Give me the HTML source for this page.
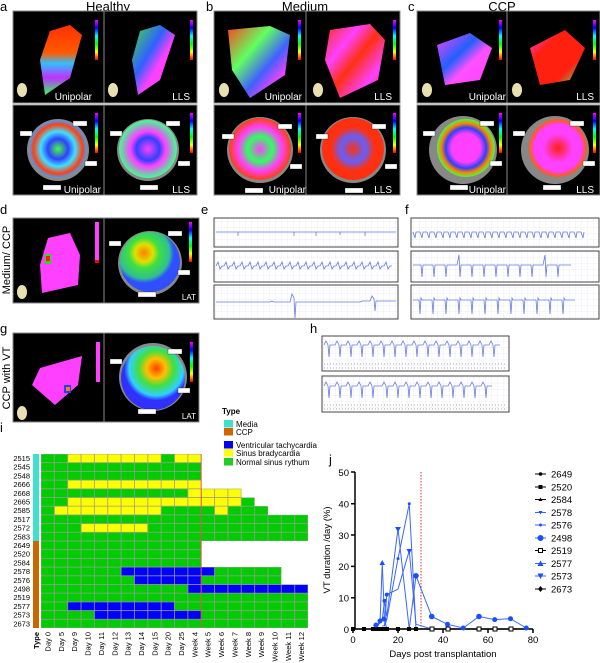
<!DOCTYPE html>
<html><head><meta charset="utf-8"><style>
html,body{margin:0;padding:0;background:#fff}
svg{display:block;font-family:"Liberation Sans",Arial,sans-serif}
</style></head><body>
<svg width="600" height="663" viewBox="0 0 600 663" xmlns="http://www.w3.org/2000/svg">
<defs>
<linearGradient id="cbar" x1="0" y1="0" x2="0" y2="1">
<stop offset="0" stop-color="#ff00ff"/><stop offset=".2" stop-color="#0000ff"/><stop offset=".4" stop-color="#00ffff"/><stop offset=".6" stop-color="#00ff00"/><stop offset=".8" stop-color="#ffff00"/><stop offset="1" stop-color="#ff0000"/></linearGradient>
<linearGradient id="ga1" x1="0" y1="0" x2="0" y2="1"><stop offset="0" stop-color="#ff3000"/><stop offset=".4" stop-color="#ff5a00"/><stop offset=".55" stop-color="#30c0ff"/><stop offset=".75" stop-color="#c030ff"/><stop offset="1" stop-color="#30ff60"/></linearGradient>
<linearGradient id="ga2" x1="0" y1="0" x2="1" y2="1"><stop offset="0" stop-color="#40e040"/><stop offset=".4" stop-color="#3060ff"/><stop offset=".6" stop-color="#ff40ff"/><stop offset="1" stop-color="#ff40ff"/></linearGradient>
<linearGradient id="gb1" x1="0" y1="0" x2="1" y2="1"><stop offset="0" stop-color="#ff4020"/><stop offset=".35" stop-color="#60ff60"/><stop offset=".6" stop-color="#4060ff"/><stop offset=".8" stop-color="#ff40ff"/><stop offset="1" stop-color="#30a0ff"/></linearGradient>
<linearGradient id="gb2" x1="0" y1="0" x2="1" y2="1"><stop offset="0" stop-color="#ff3010"/><stop offset=".3" stop-color="#ff40ff"/><stop offset=".5" stop-color="#ff3010"/><stop offset=".75" stop-color="#ff40ff"/><stop offset="1" stop-color="#ff3010"/></linearGradient>
<linearGradient id="gc1" x1="0" y1="0" x2="1" y2="1"><stop offset="0" stop-color="#ff40ff"/><stop offset=".4" stop-color="#2060ff"/><stop offset=".6" stop-color="#ff50ff"/><stop offset="1" stop-color="#ff40ff"/></linearGradient>
<linearGradient id="gc2" x1="0" y1="0" x2="1" y2="1"><stop offset="0" stop-color="#ff40ff"/><stop offset=".3" stop-color="#ff2010"/><stop offset=".7" stop-color="#ff2010"/><stop offset="1" stop-color="#40ff80"/></linearGradient>
<radialGradient id="ra1"><stop offset="0" stop-color="#40ff40"/><stop offset=".35" stop-color="#3040ff"/><stop offset=".6" stop-color="#40e0ff"/><stop offset=".85" stop-color="#ff4010"/><stop offset="1" stop-color="#40a0ff"/></radialGradient>
<radialGradient id="ra2"><stop offset="0" stop-color="#ff40ff"/><stop offset=".4" stop-color="#3040ff"/><stop offset=".6" stop-color="#ff40ff"/><stop offset="1" stop-color="#40ff90"/></radialGradient>
<radialGradient id="rb1"><stop offset="0" stop-color="#ff40ff"/><stop offset=".4" stop-color="#30ff60"/><stop offset=".7" stop-color="#ff40ff"/><stop offset="1" stop-color="#ff4010"/></radialGradient>
<radialGradient id="rb2"><stop offset="0" stop-color="#ff3010"/><stop offset=".4" stop-color="#6060ff"/><stop offset=".7" stop-color="#ff3010"/><stop offset="1" stop-color="#ff3010"/></radialGradient>
<radialGradient id="rc1"><stop offset="0" stop-color="#ff40ff"/><stop offset=".5" stop-color="#ff40ff"/><stop offset=".7" stop-color="#3040ff"/><stop offset=".85" stop-color="#ff8000"/><stop offset="1" stop-color="#40ff40"/></radialGradient>
<radialGradient id="rc2"><stop offset="0" stop-color="#ff2010"/><stop offset=".5" stop-color="#ff40ff"/><stop offset=".8" stop-color="#ff40ff"/><stop offset="1" stop-color="#ff6000"/></radialGradient>
<radialGradient id="rd" cx=".4" cy=".35"><stop offset="0" stop-color="#ff8000"/><stop offset=".3" stop-color="#e0e000"/><stop offset=".5" stop-color="#40e040"/><stop offset=".85" stop-color="#30c090"/><stop offset="1" stop-color="#3050ff"/></radialGradient>
<radialGradient id="rg" cx=".55" cy=".35"><stop offset="0" stop-color="#ff4000"/><stop offset=".3" stop-color="#ffc000"/><stop offset=".55" stop-color="#40e040"/><stop offset=".85" stop-color="#30d0ff"/><stop offset="1" stop-color="#3030ff"/></radialGradient>
<pattern id="ecg" width="6" height="6" patternUnits="userSpaceOnUse"><path d="M6 0V6M0 6H6" stroke="#dde" stroke-width=".5" fill="none"/></pattern>
<pattern id="grid" x="41" y="454" width="13.35" height="8.7" patternUnits="userSpaceOnUse"><rect width="13.35" height="8.7" fill="none" stroke="#999" stroke-width=".8"/></pattern>
</defs>

<g font-size="13" fill="#000">
<text x="0" y="11">a</text><text x="108" y="11" text-anchor="middle">Healthy</text>
<text x="206" y="11">b</text><text x="305" y="11" text-anchor="middle">Medium</text>
<text x="408" y="11">c</text><text x="502" y="11" text-anchor="middle">CCP</text>
<text x="0" y="214">d</text><text x="201" y="214">e</text><text x="405" y="214">f</text>
<text x="0" y="333">g</text><text x="310" y="333">h</text>
<text x="0" y="432">i</text><text x="329" y="464">j</text>
</g>

<g fill="#000" stroke="#888" stroke-width="1">
<rect x="13" y="11" width="91" height="92"/><rect x="104" y="11" width="93" height="92"/>
<rect x="13" y="105" width="91" height="90"/><rect x="104" y="105" width="93" height="90"/>
<rect x="214" y="11" width="92" height="92"/><rect x="306" y="11" width="94" height="92"/>
<rect x="214" y="105" width="92" height="90"/><rect x="306" y="105" width="94" height="90"/>
<rect x="417" y="11" width="90" height="92"/><rect x="507" y="11" width="93" height="92"/>
<rect x="417" y="105" width="90" height="90"/><rect x="507" y="105" width="93" height="90"/>
<rect x="13" y="218" width="91" height="85"/><rect x="104" y="218" width="95" height="85"/>
<rect x="13" y="333" width="91" height="89"/><rect x="104" y="333" width="95" height="89"/>
</g>
<text transform="translate(10,260) rotate(-90)" font-size="11" text-anchor="middle">Medium/ CCP</text>
<text transform="translate(10,378) rotate(-90)" font-size="11" text-anchor="middle">CCP with VT</text>

<polygon points="50,31 70,25 82,35 70,78 45,95 40,60" fill="url(#ga1)"/>
<polygon points="140,31 160,25 175,35 160,80 138,95 132,60" fill="url(#ga2)"/>
<polygon points="228,30 270,26 290,35 285,75 250,98 232,70" fill="url(#gb1)"/>
<polygon points="330,30 370,24 385,40 378,80 340,98 325,60" fill="url(#gb2)"/>
<polygon points="437,45 470,33 492,48 480,80 445,85" fill="url(#gc1)"/>
<polygon points="530,48 565,30 585,48 570,80 540,85" fill="url(#gc2)"/>
<polygon points="48,238 70,233 80,255 78,285 42,293 40,265" fill="#ff40ff"/>
<rect x="45" y="254" width="6" height="10" fill="#20e020"/><rect x="46" y="256" width="4" height="5" fill="#ff2000"/>
<polygon points="40,368 82,356 78,385 55,405 32,385" fill="#ff40ff"/>
<rect x="64" y="385" width="7" height="8" fill="#2040ff"/><rect x="66" y="387" width="4" height="4" fill="#ff8000"/>
<circle cx="58" cy="150" r="31" fill="#888"/><circle cx="58" cy="149" r="29" fill="url(#ra1)"/>
<circle cx="148" cy="150" r="31" fill="#888"/><circle cx="148" cy="149" r="29" fill="url(#ra2)"/>
<circle cx="260" cy="150" r="33" fill="#888"/><circle cx="260" cy="149" r="31" fill="url(#rb1)"/>
<circle cx="353" cy="150" r="33" fill="#888"/><circle cx="353" cy="149" r="31" fill="url(#rb2)"/>
<circle cx="463" cy="150" r="34" fill="#888"/><circle cx="466" cy="148" r="29" fill="url(#rc1)"/>
<circle cx="555" cy="150" r="34" fill="#888"/><circle cx="558" cy="148" r="29" fill="url(#rc2)"/>
<circle cx="150" cy="263" r="32" fill="#888"/><circle cx="150" cy="262" r="30" fill="url(#rd)"/>
<circle cx="153" cy="377" r="34" fill="#888"/><circle cx="153" cy="378" r="32" fill="url(#rg)"/>
<g fill="url(#cbar)">
<rect x="95" y="20" width="3" height="40"/><rect x="190" y="20" width="3" height="40"/>
<rect x="95" y="113" width="3" height="40"/><rect x="190" y="113" width="3" height="40"/>
<rect x="298" y="20" width="3" height="40"/><rect x="393" y="20" width="3" height="40"/>
<rect x="298" y="113" width="3" height="40"/><rect x="393" y="113" width="3" height="40"/>
<rect x="499" y="20" width="3" height="40"/><rect x="593" y="20" width="3" height="40"/>
<rect x="499" y="113" width="3" height="40"/><rect x="593" y="113" width="3" height="40"/>
<rect x="189" y="222" width="3" height="40"/><rect x="190" y="342" width="3" height="40"/>
</g>
<rect x="95" y="222" width="4" height="38" fill="#ff40ff"/><rect x="95" y="260" width="4" height="3" fill="#f00"/>
<rect x="96" y="342" width="4" height="40" fill="#ff40ff"/>
<g fill="#fff" font-size="10">
<text x="92" y="100" text-anchor="end">Unipolar</text><text x="190" y="100" text-anchor="end">LLS</text>
<text x="101" y="193" text-anchor="end">Unipolar</text><text x="190" y="193" text-anchor="end">LLS</text>
<text x="302" y="100" text-anchor="end">Unipolar</text><text x="392" y="100" text-anchor="end">LLS</text>
<text x="306" y="193" text-anchor="end">Unipolar</text><text x="392" y="193" text-anchor="end">LLS</text>
<text x="506" y="100" text-anchor="end">Unipolar</text><text x="594" y="100" text-anchor="end">LLS</text>
<text x="506" y="193" text-anchor="end">Unipolar</text><text x="594" y="193" text-anchor="end">LLS</text>
<text x="196" y="300" text-anchor="end" font-size="8">LAT</text><text x="196" y="419" text-anchor="end" font-size="8">LAT</text>
</g>
<g fill="#fff" stroke="#000" stroke-width=".3">
<rect x="20" y="131" width="12" height="5"/><rect x="73" y="121" width="14" height="5"/><rect x="85" y="161" width="12" height="5"/><rect x="43" y="185" width="18" height="5"/>
<rect x="110" y="131" width="12" height="5"/><rect x="166" y="121" width="14" height="5"/><rect x="178" y="161" width="12" height="5"/><rect x="140" y="185" width="18" height="5"/>
<rect x="222" y="134" width="12" height="5"/><rect x="278" y="124" width="14" height="5"/><rect x="290" y="164" width="12" height="5"/><rect x="245" y="188" width="18" height="5"/>
<rect x="316" y="134" width="12" height="5"/><rect x="372" y="124" width="14" height="5"/><rect x="385" y="164" width="12" height="5"/><rect x="345" y="188" width="18" height="5"/>
<rect x="423" y="131" width="12" height="5"/><rect x="480" y="121" width="14" height="5"/><rect x="490" y="161" width="12" height="5"/><rect x="450" y="185" width="18" height="5"/>
<rect x="513" y="131" width="12" height="5"/><rect x="570" y="121" width="14" height="5"/><rect x="583" y="161" width="12" height="5"/><rect x="543" y="185" width="18" height="5"/>
<rect x="109" y="241" width="12" height="5"/><rect x="168" y="231" width="14" height="5"/><rect x="178" y="270" width="12" height="5"/><rect x="138" y="292" width="18" height="5"/>
<rect x="110" y="359" width="12" height="5"/><rect x="168" y="349" width="14" height="5"/><rect x="178" y="388" width="12" height="5"/><rect x="138" y="409" width="18" height="5"/>
</g>
<g fill="#e8e0b0"><ellipse cx="22" cy="90" rx="5" ry="7"/><ellipse cx="113" cy="90" rx="5" ry="7"/><ellipse cx="224" cy="90" rx="5" ry="7"/><ellipse cx="318" cy="90" rx="5" ry="7"/><ellipse cx="427" cy="90" rx="5" ry="7"/><ellipse cx="517" cy="90" rx="5" ry="7"/><ellipse cx="22" cy="292" rx="5" ry="7"/><ellipse cx="22" cy="413" rx="5" ry="7"/></g>

<g fill="url(#ecg)" stroke="#444" stroke-width="1">
<rect x="214" y="218" width="184" height="29"/><rect x="214" y="251" width="184" height="31"/><rect x="214" y="285" width="184" height="34"/>
<rect x="411" y="218" width="188" height="29"/><rect x="411" y="251" width="188" height="31"/><rect x="411" y="285" width="188" height="34"/>
<rect x="322" y="336" width="187" height="35"/><rect x="322" y="376" width="187" height="36"/>
</g>
<g fill="none" stroke="#6a7be0" stroke-width=".8">
<path d="M216 232H238v4v-4H294v4v-4H316v4v-4H340v3v-3H365v4v-4H396"/>
<path d="M216 266l2-4 2 7 2-3h2l2-4 2 7 2-3h2l2-4 2 7 2-3h2l2-4 2 7 2-3h2l2-4 2 7 2-3h2l2-4 2 7 2-3h2l2-4 2 7 2-3h2l2-4 2 7 2-3h2l2-4 2 7 2-3h2l2-4 2 7 2-3h2l2-4 2 7 2-3h2l2-4 2 7 2-3h2l2-4 2 7 2-3h2l2-4 2 7 2-3h2l2-4 2 7 2-3h2l2-4 2 7 2-3h2l2-4 2 7 2-3h2l2-4 2 7 2-3h2l2-4 2 7 2-3h2l2-4 2 7 2-3h2l2-4 2 7 2-3h2l2-4 2 7 2-3h2"/>
<path d="M216 302H270l2-1 2 1H290l2-8 2 4 1 20 1-16H360l2-1H370l2-5 2 3 1 12 1-10H396"/>
<path d="M413 232l2 6 1-6 4 0 2 6 1-6 4 0 2 6 1-6 4 0 2 6 1-6 4 0 2 6 1-6 4 0 2 6 1-6 4 0 2 6 1-6 4 0 2 6 1-6 4 0 2 6 1-6 4 0 2 6 1-6 4 0 2 6 1-6 4 0 2 6 1-6 4 0 2 6 1-6 4 0 2 6 1-6 4 0 2 6 1-6 4 0 2 6 1-6 4 0 2 6 1-6 4 0 2 6 1-6 4 0 2 6 1-6 4 0 2 6 1-6 4 0 2 6 1-6 4 0 2 6 1-6 4 0 2 6 1-6 4 0 2 6 1-6 4 0 2 6 1-6"/>
<path d="M413 265h8l1 12 1-12h10l1 12 1-12h10l1 12 1-12h10l2-10 1 22 1-12h10l1 12 1-12h10l1 12 1-12h10l1 12 1-12h10l1 12 1-12h10l1 12 1-12h10l1 12 1-12h10l2-10 1 22 1-12h10l1 12 1-12h12"/>
<path d="M413 300h6l1 14 1-16 1 2h10l1 14 1-16 1 2h10l1 14 1-16 1 2h10l1 14 1-16 1 2h10l1 14 1-16 1 2h10l1 14 1-16 1 2h10l1 14 1-16 1 2h10l1 14 1-16 1 2h10l1 14 1-16 1 2h10l1 14 1-16 1 2h10l1 14 1-16 1 2h10l1 14 1-16 1 2h10"/>
<path d="M324 345l2-4 2 4 1 12 1-12h5l2-4 2 4 1 12 1-12h5l2-4 2 4 1 12 1-12h5l2-4 2 4 1 12 1-12h5l2-4 2 4 1 12 1-12h5l2-4 2 4 1 12 1-12h5l2-4 2 4 1 12 1-12h5l2-4 2 4 1 12 1-12h5l2-4 2 4 1 12 1-12h5l2-4 2 4 1 12 1-12h5l2-4 2 4 1 12 1-12h5l2-4 2 4 1 12 1-12h5l2-4 2 4 1 12 1-12h5l2-4 2 4 1 12 1-12h5l2-4 2 4 1 12 1-12h5l2-4 2 4 1 12 1-12h5"/>
<path d="M324 386l2-4 2 4 1 12 1-12h5l2-4 2 4 1 12 1-12h5l2-4 2 4 1 12 1-12h5l2-4 2 4 1 12 1-12h5l2-4 2 4 1 12 1-12h8l2-4 2 4 1 12 1-12h5l2-4 2 4 1 12 1-12h5l2-4 2 4 1 12 1-12h5l2-4 2 4 1 12 1-12h5l2-4 2 4 1 12 1-12h5l2-4 2 4 1 12 1-12h5l2-4 2 4 1 12 1-12h5l2-4 2 4 1 12 1-12h5l2-4 2 4 1 12 1-12h5l2-4 2 4 1 12 1-12h5"/>
</g>
<g stroke="#555" stroke-width=".6" stroke-dasharray="1 2"><path d="M324 364H507M324 368H507M324 405H507M324 409H507"/></g>

<text x="222" y="414" font-size="8" font-weight="bold">Type</text>
<rect x="224" y="420" width="9" height="7.5" fill="#40e0d0"/><text x="236" y="427" font-size="8">Media</text>
<rect x="224" y="428" width="9" height="7.5" fill="#cc6600"/><text x="236" y="435" font-size="8">CCP</text>
<rect x="224" y="441" width="9" height="7.5" fill="#0000ff"/><text x="236" y="448" font-size="8">Ventricular tachycardia</text>
<rect x="224" y="449" width="9" height="7.5" fill="#ffff00"/><text x="236" y="456" font-size="8">Sinus bradycardia</text>
<rect x="224" y="458" width="9" height="7.5" fill="#22cc22"/><text x="236" y="465" font-size="8">Normal sinus rythum</text>

<rect x="33" y="454" width="6" height="87" fill="#40e0d0"/>
<rect x="33" y="541" width="6" height="87" fill="#cc6600"/>
<g fill="#00cc00">
<rect x="41" y="454" width="160.2" height="8.7"/><rect x="41" y="462.7" width="160.2" height="8.7"/><rect x="41" y="471.4" width="160.2" height="8.7"/><rect x="41" y="480.1" width="160.2" height="8.7"/>
<rect x="41" y="488.8" width="200.25" height="8.7"/><rect x="41" y="497.5" width="213.6" height="8.7"/><rect x="41" y="506.2" width="226.95" height="8.7"/>
<rect x="41" y="514.9" width="267" height="26.1"/>
<rect x="41" y="541" width="160.2" height="26.1"/>
<rect x="41" y="567.1" width="240.3" height="17.4"/>
<rect x="41" y="584.5" width="267" height="43.5"/>
</g>
<g fill="#ffff00">
<rect x="67.7" y="454" width="93.45" height="8.7"/><rect x="174.5" y="454" width="26.7" height="8.7"/>
<rect x="67.7" y="480.1" width="133.5" height="8.7"/>
<rect x="187.85" y="488.8" width="53.4" height="8.7"/>
<rect x="67.7" y="497.5" width="173.55" height="8.7"/>
<rect x="54.35" y="506.2" width="106.8" height="8.7"/><rect x="214.55" y="506.2" width="13.35" height="8.7"/>
<rect x="81.05" y="523.6" width="66.75" height="8.7"/>
</g>
<g fill="#0000ff">
<rect x="121.1" y="567.1" width="93.45" height="8.7"/>
<rect x="134.45" y="575.8" width="66.75" height="8.7"/>
<rect x="187.85" y="584.5" width="120.15" height="8.7"/>
<rect x="67.7" y="601.9" width="106.8" height="8.7"/>
<rect x="94.4" y="610.6" width="106.8" height="8.7"/>
</g>
<g fill="url(#grid)">
<rect x="41" y="454" width="160.2" height="34.8"/>
<rect x="41" y="488.8" width="200.25" height="8.7"/><rect x="41" y="497.5" width="213.6" height="8.7"/><rect x="41" y="506.2" width="226.95" height="8.7"/>
<rect x="41" y="514.9" width="267" height="26.1"/><rect x="41" y="541" width="160.2" height="26.1"/>
<rect x="41" y="567.1" width="240.3" height="17.4"/><rect x="41" y="584.5" width="267" height="43.5"/>
</g>
<line x1="201.2" y1="454" x2="201.2" y2="628" stroke="#f04040" stroke-width=".8"/>
<g font-size="7.5" text-anchor="end">
<text x="30" y="461">2515</text><text x="30" y="469.7">2545</text><text x="30" y="478.4">2548</text><text x="30" y="487.1">2666</text><text x="30" y="495.8">2668</text><text x="30" y="504.5">2665</text><text x="30" y="513.2">2585</text><text x="30" y="521.9">2517</text><text x="30" y="530.6">2572</text><text x="30" y="539.3">2583</text><text x="30" y="548">2649</text><text x="30" y="556.7">2520</text><text x="30" y="565.4">2584</text><text x="30" y="574.1">2578</text><text x="30" y="582.8">2576</text><text x="30" y="591.5">2498</text><text x="30" y="600.2">2519</text><text x="30" y="608.9">2577</text><text x="30" y="617.6">2573</text><text x="30" y="626.3">2673</text>
</g>
<g font-size="7.5" text-anchor="end">
<text transform="translate(39,632) rotate(-90)" font-weight="bold">Type</text>
<text transform="translate(50.5,632) rotate(-90)">Day 0</text>
<text transform="translate(63.9,632) rotate(-90)">Day 5</text>
<text transform="translate(77.2,632) rotate(-90)">Day 9</text>
<text transform="translate(90.6,632) rotate(-90)">Day 10</text>
<text transform="translate(103.9,632) rotate(-90)">Day 11</text>
<text transform="translate(117.3,632) rotate(-90)">Day 12</text>
<text transform="translate(130.6,632) rotate(-90)">Day 13</text>
<text transform="translate(144,632) rotate(-90)">Day 14</text>
<text transform="translate(157.3,632) rotate(-90)">Day 15</text>
<text transform="translate(170.7,632) rotate(-90)">Day 20</text>
<text transform="translate(184,632) rotate(-90)">Day 25</text>
<text transform="translate(197.4,632) rotate(-90)">Week 4</text>
<text transform="translate(210.7,632) rotate(-90)">Week 5</text>
<text transform="translate(224.1,632) rotate(-90)">Week 6</text>
<text transform="translate(237.4,632) rotate(-90)">Week 7</text>
<text transform="translate(250.8,632) rotate(-90)">Week 8</text>
<text transform="translate(264.1,632) rotate(-90)">Week 9</text>
<text transform="translate(277.5,632) rotate(-90)">Week 10</text>
<text transform="translate(290.8,632) rotate(-90)">Week 11</text>
<text transform="translate(304.2,632) rotate(-90)">Week 12</text>
</g>

<line x1="421" y1="472" x2="421" y2="629" stroke="#e03030" stroke-width="1" stroke-dasharray="1.5 1.5"/>
<g stroke="#000" stroke-width="1.5" fill="none">
<path d="M355 472V629H533"/>
<path d="M351 472h4M351 503.7h4M351 535h4M351 566.4h4M351 597.7h4M351 629h4"/>
<path d="M353 629v4M398 629v4M443 629v4M488 629v4M533 629v4"/>
</g>
<g font-size="9.5" text-anchor="end">
<text x="349" y="476">50</text><text x="349" y="507.5">40</text><text x="349" y="539">30</text><text x="349" y="570">20</text><text x="349" y="601.5">10</text><text x="349" y="633">0</text>
</g>
<g font-size="9.5" text-anchor="middle">
<text x="353" y="643">0</text><text x="398" y="643">20</text><text x="443" y="643">40</text><text x="488" y="643">60</text><text x="533" y="643">80</text>
<text x="443" y="657">Days post transplantation</text>
</g>
<text transform="translate(330,550) rotate(-90)" font-size="9.5" text-anchor="middle">VT duration /day (%)</text>
<g fill="none" stroke="#3a66ff" stroke-width="1">
<polyline points="373.25,625.9 375.5,625.9 377.75,625.9 380,622.7 382.25,563.3 384.5,619.6 386.75,629 398,629"/>
<polyline points="377.75,625.9 380,619.6 382.25,619.6 384.5,600.8 386.75,616.5 398,528.8 409.25,629 416,629"/>
<polyline points="384.5,625.9 386.75,619.6 398,558.6 409.25,503.8 416,629"/>
<polyline points="382.25,625.9 384.5,625.9 386.75,594.6 398,589.2 409.25,550.8 416,624.3 431.75,629"/>
<polyline points="409.25,629 416,575.8 431.75,616.5 447.5,624.3 463.25,628 479,616.5 494.75,619.6 510.5,618.7 526.25,628"/>
</g>
<line x1="353" y1="629" x2="526" y2="629" stroke="#000" stroke-width="1.3"/>
<g fill="#000">
<rect x="351" y="627" width="4" height="4"/><rect x="362" y="627" width="4" height="4"/><rect x="371" y="627" width="18" height="4"/><rect x="396" y="627" width="4" height="4"/><rect x="407" y="627" width="4" height="4"/><rect x="414" y="627" width="4" height="4"/>
</g>
<g fill="#fff" stroke="#000" stroke-width="1"><rect x="430" y="627" width="4" height="4"/><rect x="446" y="627" width="4" height="4"/><rect x="477" y="627" width="4" height="4"/><rect x="493" y="627" width="4" height="4"/><rect x="509" y="627" width="4" height="4"/></g>
<g fill="#1a4fff">
<circle cx="416" cy="575.8" r="2.8"/><circle cx="431.75" cy="616.5" r="2.8"/><circle cx="447.5" cy="624.3" r="2.5"/><circle cx="463.25" cy="628" r="2.5"/><circle cx="479" cy="616.5" r="2.8"/><circle cx="494.75" cy="619.6" r="2.5"/><circle cx="510.5" cy="618.7" r="2.5"/><circle cx="526.25" cy="628" r="2.5"/>
<polygon points="382.25,560 379.5,565 385,565"/><polygon points="398,532 395,527 401,527"/><polygon points="409.25,554 406.5,549 412,549"/>
<circle cx="398" cy="558.6" r="1.5"/><circle cx="409.25" cy="503.8" r="1.5"/><circle cx="386.75" cy="594.6" r="2"/><circle cx="384.5" cy="600.8" r="2"/>
<circle cx="376" cy="625" r="2.5"/><circle cx="380" cy="621" r="2.5"/><circle cx="384" cy="619" r="2.5"/>
</g>
<g font-size="9.5">
<g stroke="#000"><line x1="535" y1="474" x2="546" y2="474"/><line x1="535" y1="487" x2="546" y2="487"/><line x1="535" y1="499.5" x2="546" y2="499.5"/><line x1="535" y1="589" x2="546" y2="589"/></g>
<g stroke="#3a66ff"><line x1="535" y1="512.5" x2="546" y2="512.5"/><line x1="535" y1="525" x2="546" y2="525"/><line x1="535" y1="538" x2="546" y2="538"/><line x1="535" y1="563.5" x2="546" y2="563.5"/><line x1="535" y1="576" x2="546" y2="576"/></g>
<circle cx="540.5" cy="474" r="1.8"/><rect x="538.5" y="485" width="4" height="4"/><polygon points="540.5,497.5 538.5,501 542.5,501"/>
<polygon points="540.5,514.5 538.5,511 542.5,511" fill="#1a4fff"/><circle cx="540.5" cy="525" r="1.5" fill="#1a4fff"/><circle cx="540.5" cy="538" r="3" fill="#1a4fff"/>
<line x1="535" y1="550.5" x2="546" y2="550.5" stroke="#000"/>
<rect x="538.5" y="548.5" width="4" height="4" fill="#fff" stroke="#000"/><polygon points="540.5,560.5 537.5,566 543.5,566" fill="#1a4fff"/><polygon points="540.5,579 537.5,573.5 543.5,573.5" fill="#1a4fff"/>
<polygon points="540.5,586 543,589 540.5,592 538,589"/>
<text x="551" y="477.5">2649</text><text x="551" y="490.5">2520</text><text x="551" y="503">2584</text><text x="551" y="516">2578</text><text x="551" y="528.5">2576</text><text x="551" y="541.5">2498</text><text x="551" y="554">2519</text><text x="551" y="567">2577</text><text x="551" y="579.5">2573</text><text x="551" y="592.5">2673</text>
</g>
</svg>
</body></html>
